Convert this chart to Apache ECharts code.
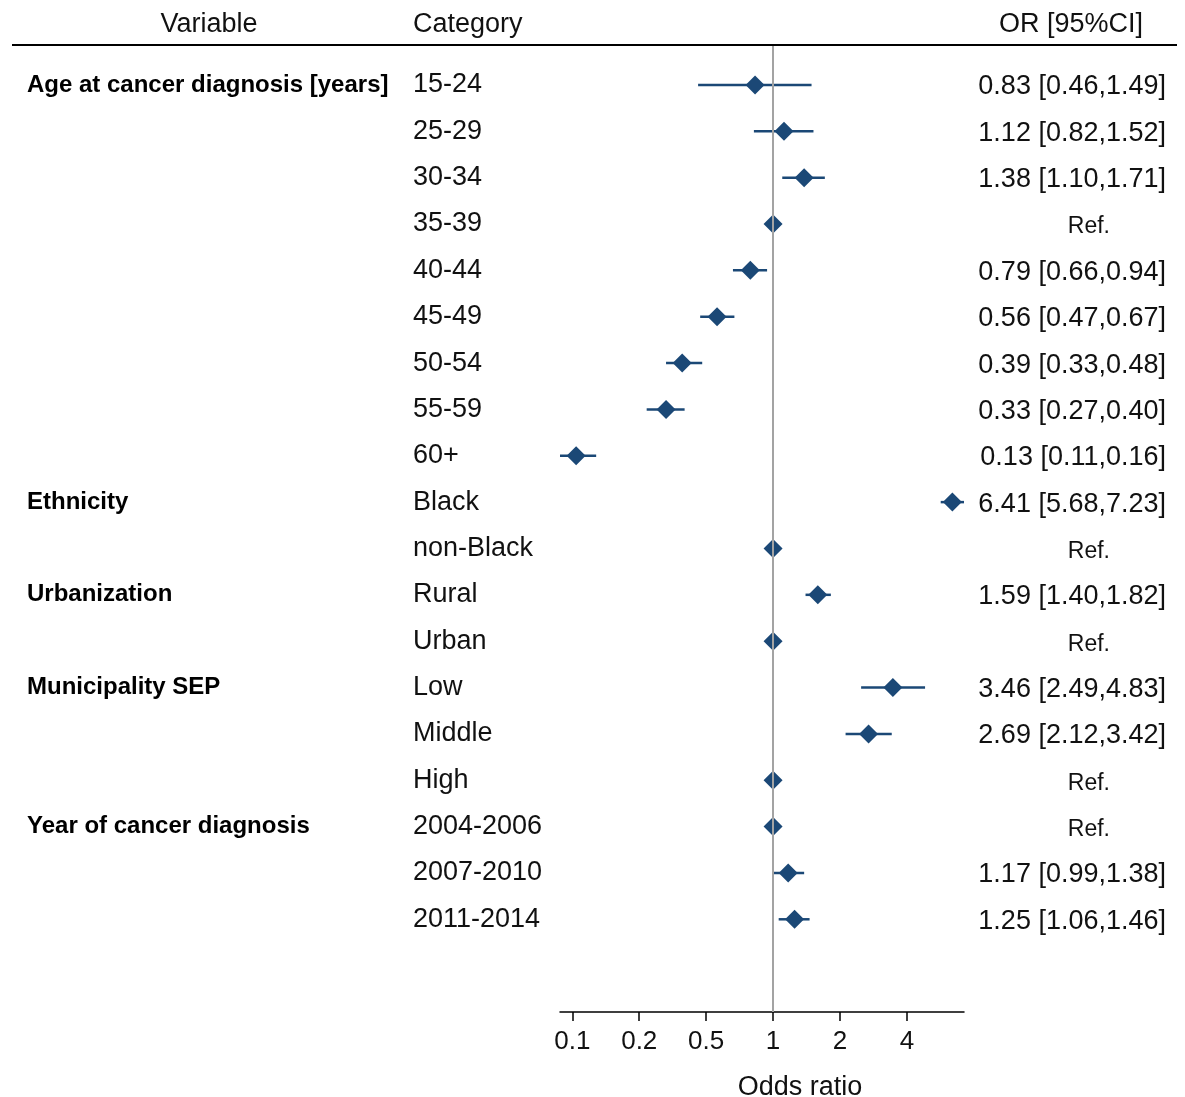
<!DOCTYPE html>
<html>
<head>
<meta charset="utf-8" />
<title>Odds ratio forest plot</title>
<script src="https://cdn.jsdelivr.net/npm/echarts@6/dist/echarts.min.js"></script>
<style>
  html, body { margin: 0; padding: 0; background: #fff; }
  #chart { width: 1185px; height: 1097px; }
</style>
</head>
<body>
<div id="chart"></div>
<script>
  // rows, top to bottom
  var variables = ['Age at cancer diagnosis [years]', '', '', '', '', '', '', '', '',
    'Ethnicity', '', 'Urbanization', '', 'Municipality SEP', '', '', 'Year of cancer diagnosis', '', ''];
  var categories = ['15-24', '25-29', '30-34', '35-39', '40-44', '45-49', '50-54', '55-59', '60+',
    'Black', 'non-Black', 'Rural', 'Urban', 'Low', 'Middle', 'High', '2004-2006', '2007-2010', '2011-2014'];
  var oddsRatio = [0.83, 1.12, 1.38, 1, 0.79, 0.56, 0.39, 0.33, 0.13,
    6.41, 1, 1.59, 1, 3.46, 2.69, 1, 1, 1.17, 1.25];
  var ciLow = [0.46, 0.82, 1.10, null, 0.66, 0.47, 0.33, 0.27, 0.11,
    5.68, null, 1.40, null, 2.49, 2.12, null, null, 0.99, 1.06];
  var ciHigh = [1.49, 1.52, 1.71, null, 0.94, 0.67, 0.48, 0.40, 0.16,
    7.23, null, 1.82, null, 4.83, 3.42, null, null, 1.38, 1.46];
  var orText = ['0.83 [0.46,1.49]', '1.12 [0.82,1.52]', '1.38 [1.10,1.71]', 'Ref.', '0.79 [0.66,0.94]',
    '0.56 [0.47,0.67]', '0.39 [0.33,0.48]', '0.33 [0.27,0.40]', '0.13 [0.11,0.16]', '6.41 [5.68,7.23]',
    'Ref.', '1.59 [1.40,1.82]', 'Ref.', '3.46 [2.49,4.83]', '2.69 [2.12,3.42]', 'Ref.', 'Ref.',
    '1.17 [0.99,1.38]', '1.25 [1.06,1.46]'];
  // x axis ticks sit at powers of two, labelled with rounded values
  var tickValues = [0.125, 0.25, 0.5, 1, 2, 4];
  var tickLabels = ['0.1', '0.2', '0.5', '1', '2', '4'];

  var FONT = '"Liberation Sans", Arial, Helvetica, sans-serif';
  var BLUE = '#1b4876';

  // plot on log2 scale
  var rowIdx = categories.map(function (c, i) { return i + 1; });
  var points = oddsRatio.map(function (v, i) { return [Math.log2(v), i + 1]; });
  var bars = [];
  for (var i = 0; i < oddsRatio.length; i++) {
    if (ciLow[i] != null) bars.push([Math.log2(ciLow[i]), Math.log2(ciHigh[i]), i + 1]);
  }
  var tickPos = tickValues.map(function (v) { return Math.log2(v); });
  var xMin = Math.log2(Math.min.apply(null, ciLow.filter(function (v) { return v != null; })));
  var xMax = Math.log2(Math.max.apply(null, ciHigh.filter(function (v) { return v != null; })));

  function rowAxis(pos, labelOpt) {
    return {
      type: 'value', position: pos, inverse: true, min: 0.16, max: 21,
      axisLine: { show: false }, axisTick: { show: false }, splitLine: { show: false },
      axisLabel: labelOpt
    };
  }

  var chart = echarts.init(document.getElementById('chart'));
  var option = {
    animation: false,
    textStyle: { fontFamily: FONT },
    grid: { left: 560, right: 221, top: 46, bottom: 85, outerBoundsMode: 'none', containLabel: false },
    graphic: [
      { type: 'line', shape: { x1: 12, y1: 45, x2: 1177, y2: 45 }, style: { stroke: '#000', lineWidth: 2 } },
      { type: 'text', x: 209, y: 25, style: { text: 'Variable', font: '27px ' + FONT, fill: '#111', align: 'center', verticalAlign: 'middle' } },
      { type: 'text', x: 413, y: 25, style: { text: 'Category', font: '27px ' + FONT, fill: '#111', align: 'left', verticalAlign: 'middle' } },
      { type: 'text', x: 1071, y: 25, style: { text: 'OR [95%CI]', font: '27px ' + FONT, fill: '#111', align: 'center', verticalAlign: 'middle' } }
    ],
    xAxis: {
      type: 'value', min: xMin, max: xMax,
      name: 'Odds ratio', nameLocation: 'middle', nameGap: 62,
      nameTextStyle: { fontSize: 27, color: '#111', padding: [0, 0, 0, 76] },
      axisLine: { lineStyle: { color: '#000', width: 1.5 } },
      axisTick: { customValues: tickPos, length: 9, lineStyle: { color: '#000', width: 1.5 } },
      axisLabel: {
        customValues: tickPos, margin: 17, fontSize: 26, color: '#111',
        formatter: function (v) { return tickLabels[tickPos.indexOf(v)]; }
      },
      splitLine: { show: false }
    },
    yAxis: [
      rowAxis('left', {
        customValues: rowIdx, align: 'left', margin: 147, fontSize: 27, color: '#111', padding: [4, 0, 0, 0],
        formatter: function (v) { return categories[v - 1]; }
      }),
      rowAxis('left', {
        customValues: rowIdx, align: 'left', margin: 533, fontSize: 24, fontWeight: 'bold', color: '#000', padding: [4, 0, 0, 0],
        formatter: function (v) { return variables[v - 1]; }
      }),
      rowAxis('right', {
        customValues: rowIdx, align: 'right', margin: 202, fontSize: 27, color: '#111', padding: [4, 0, 0, 0],
        formatter: function (v) {
          var t = orText[v - 1];
          return t === 'Ref.' ? '{ref|' + t + '}' : t;
        },
        rich: { ref: { fontSize: 23, color: '#111', padding: [2, 56, 0, 0] } }
      })
    ],
    series: [
      {
        type: 'custom',
        yAxisIndex: 0,
        data: bars,
        renderItem: function (params, api) {
          var a = api.coord([api.value(0), api.value(2)]);
          var b = api.coord([api.value(1), api.value(2)]);
          return {
            type: 'line',
            shape: { x1: a[0], y1: a[1], x2: b[0], y2: b[1] },
            style: { stroke: BLUE, lineWidth: 2.5 }
          };
        },
        z: 3
      },
      {
        type: 'scatter',
        yAxisIndex: 0,
        data: points,
        symbol: 'diamond',
        symbolSize: 19,
        itemStyle: { color: BLUE, opacity: 1 },
        z: 4,
        markLine: {
          silent: true, symbol: 'none', label: { show: false },
          lineStyle: { color: '#a3a3a3', width: 2, type: 'solid' },
          data: [{ xAxis: 0 }]
        }
      }
    ]
  };
  chart.setOption(option);
</script>
</body>
</html>
